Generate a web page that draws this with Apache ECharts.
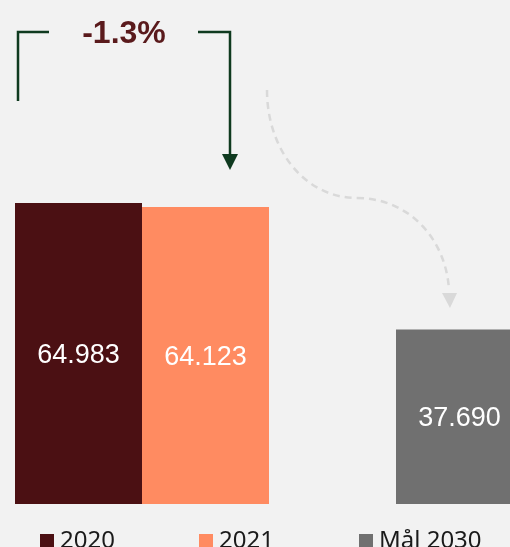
<!DOCTYPE html>
<html>
<head>
<meta charset="utf-8">
<script src="https://cdn.jsdelivr.net/npm/echarts@6/dist/echarts.min.js"></script>
<style>
  html, body { margin: 0; padding: 0; background: #f2f2f2; }
  #chart { width: 510px; height: 547px; }
</style>
</head>
<body>
<div id="chart"></div>
<script>
// slots on the category axis, the third one stays empty as a spacer
var categories = ['2020', '2021', '', 'Mål 2030']
var seriesNames = ['2020', '2021', 'Mål 2030']
var seriesSlots = [0, 1, 3]
var seriesValues = [64.983, 64.123, 37.690]
var seriesColors = ['#4b1013', '#ff8b61', '#707070']
var changeLabel = '-1.3%'

var chart = echarts.init(document.getElementById('chart'))

var series = seriesNames.map(function (name, i) {
  var data = categories.map(function () { return '-' })
  data[seriesSlots[i]] = seriesValues[i]
  return {
    name: name,
    type: 'bar',
    stack: 'all',
    barWidth: '100%',
    data: data,
    itemStyle: { color: seriesColors[i] },
    label: {
      show: true,
      position: 'inside',
      offset: [0, 2],
      color: '#ffffff',
      fontFamily: 'Liberation Sans',
      fontSize: 27,
      formatter: function (p) { return p.value.toFixed(3) }
    }
  }
})

var legendLeft = [40, 199, 359]
var legends = seriesNames.map(function (name, i) {
  return {
    data: [name],
    left: legendLeft[i],
    top: 529,
    padding: 0,
    itemWidth: 14,
    itemHeight: 14,
    icon: 'rect',
    selectedMode: false,
    textStyle: {
      color: '#1a1a1a',
      fontFamily: 'Noto Sans',
      fontSize: 24,
      lineHeight: 14,
      padding: [0, 0, 4, 1]
    }
  }
})

var green = '#0f3a1f'
var dashGrey = '#d9d9d9'

chart.setOption({
  backgroundColor: '#f2f2f2',
  animation: false,
  legend: legends,
  grid: { left: 15, top: 40.8, width: 508, height: 463.2, outerBoundsMode: 'none' },
  xAxis: { type: 'category', data: categories, show: false },
  yAxis: { type: 'value', min: 0, max: 100, show: false },
  series: series,
  graphic: [
    {
      type: 'polyline',
      shape: { points: [[18, 101], [18, 32], [49, 32]] },
      style: { stroke: green, lineWidth: 2.5, fill: null }
    },
    {
      type: 'polyline',
      shape: { points: [[198, 32], [230, 32], [230, 156]] },
      style: { stroke: green, lineWidth: 2.5, fill: null }
    },
    {
      type: 'polygon',
      shape: { points: [[222, 154], [238, 154], [230, 170]] },
      style: { fill: green }
    },
    {
      type: 'text',
      x: 124,
      y: 34,
      style: {
        text: changeLabel,
        fill: '#5a1a1c',
        font: 'bold 32px "Liberation Sans"',
        align: 'center',
        verticalAlign: 'middle'
      }
    },
    {
      type: 'bezierCurve',
      shape: { x1: 267, y1: 90, cpx1: 267, cpy1: 150, cpx2: 305, cpy2: 198, x2: 357, y2: 198 },
      style: { stroke: dashGrey, lineWidth: 2.5, fill: null, lineDash: [7, 5] }
    },
    {
      type: 'bezierCurve',
      shape: { x1: 357, y1: 198, cpx1: 408, cpy1: 198, cpx2: 446, cpy2: 238, x2: 449, y2: 290 },
      style: { stroke: dashGrey, lineWidth: 2.5, fill: null, lineDash: [7, 5] }
    },
    {
      type: 'polygon',
      shape: { points: [[442, 293], [457, 293], [450, 308]] },
      style: { fill: dashGrey }
    }
  ]
})
</script>
</body>
</html>
